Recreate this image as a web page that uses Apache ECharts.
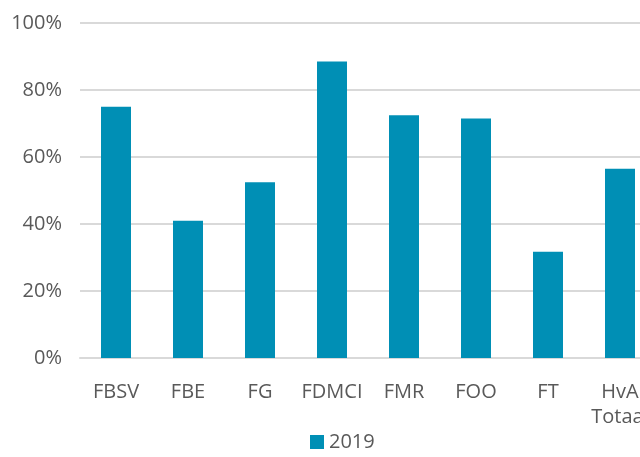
<!DOCTYPE html>
<html>
<head>
<meta charset="utf-8">
<script src="https://cdn.jsdelivr.net/npm/echarts@6/dist/echarts.min.js"></script>
<style>
  html, body { margin: 0; padding: 0; overflow: hidden; background: #fff; }
  #chart { width: 656px; height: 457px; }
</style>
</head>
<body>
<div id="chart"></div>
<script>
let categories = ['FBSV', 'FBE', 'FG', 'FDMCI', 'FMR', 'FOO', 'FT', 'HvA\nTotaal'];
let values2019 = [75, 41, 52.5, 88.5, 72.5, 71.5, 31.7, 56.5];
let yTicks = [0, 20, 40, 60, 80, 100];

let chart = echarts.init(document.getElementById('chart'));
chart.setOption({
    animation: false,
    textStyle: { fontFamily: 'Open Sans' },
    grid: { left: 80, right: 0, top: 23, bottom: 99 },
    legend: {
        bottom: 0,
        left: 305,
        itemWidth: 14,
        itemHeight: 14,
        icon: 'rect',
        textStyle: { fontSize: 20, color: '#595959', fontFamily: 'Open Sans' },
        data: ['2019']
    },
    xAxis: {
        type: 'category',
        data: categories,
        axisLine: { lineStyle: { color: '#d9d9d9', width: 2 } },
        axisTick: { show: false },
        axisLabel: { interval: 0, fontSize: 20, color: '#595959', margin: 22, lineHeight: 25 }
    },
    yAxis: {
        type: 'value',
        min: yTicks[0],
        max: yTicks[yTicks.length - 1],
        interval: 20,
        axisLine: { show: false },
        axisTick: { show: false },
        splitLine: { lineStyle: { color: '#d9d9d9', width: 2 } },
        axisLabel: { fontSize: 20, color: '#595959', margin: 18, formatter: '{value}%' }
    },
    series: [{
        name: '2019',
        type: 'bar',
        barWidth: 30,
        data: values2019,
        itemStyle: { color: '#008fb5' }
    }]
});
</script>
</body>
</html>
